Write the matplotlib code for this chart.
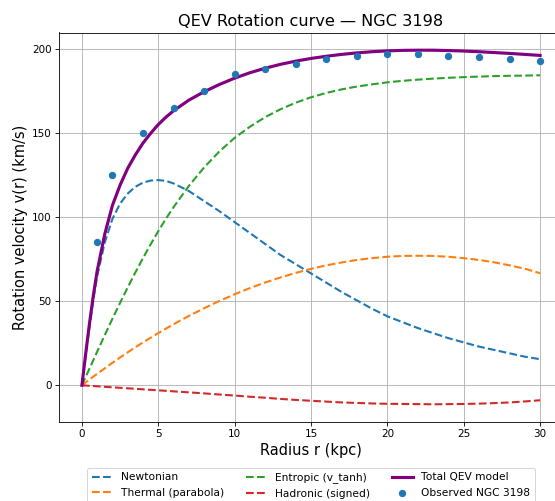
import matplotlib
matplotlib.use("Agg")
import matplotlib.pyplot as plt
import numpy as np

# Radius grid (kpc)
r = [0, 0.25, 0.5, 0.75, 1, 1.5, 2, 2.5, 3, 3.5, 4, 4.5, 5, 5.5, 6, 7, 8, 9, 10, 11, 12, 13,
     14, 15, 16, 17, 18, 19, 20, 21, 22, 23, 24, 25, 26, 27, 28, 29, 30]

v_newton = [0, 18, 35, 51, 65, 85, 99, 108, 114, 118, 120.5, 121.7, 122, 121.5, 120, 115.5,
            109.5, 103.5, 97, 90.5, 84, 77.5, 72, 66.5, 61, 55.5, 50.5, 45.5, 41, 37.5, 34,
            31, 28, 25.5, 23, 21, 19, 17, 15.5]

v_thermal = [0, 1.7, 3.5, 5.2, 6.8, 10.1, 13.4, 16.5, 19.6, 22.6, 25.5, 28.3, 31.0, 33.7,
             36.3, 41.2, 45.8, 50.1, 54.1, 57.8, 61.1, 64.1, 66.8, 69.2, 71.3, 73.0, 74.5,
             75.6, 76.4, 76.9, 77.0, 76.9, 76.4, 75.6, 74.5, 73.1, 71.3, 69.3, 66.6]

v_entropic = [0, 5.0, 10.0, 15.0, 20.0, 29.9, 39.6, 49.0, 58.2, 67.1, 75.6, 83.8, 91.6, 99.0,
              105.9, 118.5, 129.5, 139.0, 147.1, 153.7, 159.4, 164.1, 168.0, 171.2, 173.8,
              175.9, 177.6, 178.9, 180.1, 181.0, 181.7, 182.3, 182.8, 183.2, 183.5, 183.8,
              184.0, 184.1, 184.3]

v_hadronic = [0, -0.15, -0.3, -0.45, -0.6, -0.9, -1.2, -1.5, -1.8, -2.1, -2.4, -2.7, -3.0,
              -3.3, -3.6, -4.2, -4.8, -5.5, -6.1, -6.8, -7.4, -8.1, -8.7, -9.2, -9.7, -10.2,
              -10.5, -10.8, -11.0, -11.1, -11.2, -11.3, -11.2, -11.1, -10.9, -10.6, -10.2,
              -9.6, -8.9]

v_total = [0, 19, 37, 53.5, 68, 90, 107, 119, 129, 137, 144, 149.8, 155, 159.4, 163.2, 169.5,
           174.5, 178.8, 182.6, 185.8, 188.5, 190.8, 192.7, 194.3, 195.6, 196.7, 197.6,
           198.3, 198.8, 199.1, 199.2, 199.2, 199.0, 198.7, 198.3, 197.8, 197.3, 196.7, 196.1]

r_obs = [1, 2, 4, 6, 8, 10, 12, 14, 16, 18, 20, 22, 24, 26, 28, 30]
v_obs = [85, 125, 150, 165, 175, 185, 188, 191, 194, 196, 197, 197, 196, 195, 194, 193]

DPI = 75
fig = plt.figure(figsize=(555 / DPI, 501 / DPI), dpi=DPI)
ax = fig.add_axes([59 / 555, 79 / 501, 504 / 555, 389.5 / 501])

ax.plot(r, v_newton, '--', color='#1f77b4', lw=2, label='Newtonian')
ax.plot(r, v_thermal, '--', color='#ff7f0e', lw=2, label='Thermal (parabola)')
ax.plot(r, v_entropic, '--', color='#2ca02c', lw=2, label='Entropic (v_tanh)')
ax.plot(r, v_hadronic, '--', color='#d62728', lw=2, label='Hadronic (signed)')
ax.plot(r, v_total, '-', color='purple', lw=3, label='Total QEV model')
ax.scatter(r_obs, v_obs, color='#1f77b4', s=36, zorder=5, label='Observed NGC 3198')

ax.set_title('QEV Rotation curve — NGC 3198', fontsize=15.5)
ax.set_xlabel('Radius r (kpc)', fontsize=14)
ax.set_ylabel('Rotation velocity v(r) (km/s)', fontsize=14)
ax.tick_params(labelsize=10)
ax.grid(True)
ax.legend(loc='upper center', bbox_to_anchor=(0.5, -0.105), ncol=3, fontsize=10.2)

fig.savefig('out.png', dpi=DPI)
